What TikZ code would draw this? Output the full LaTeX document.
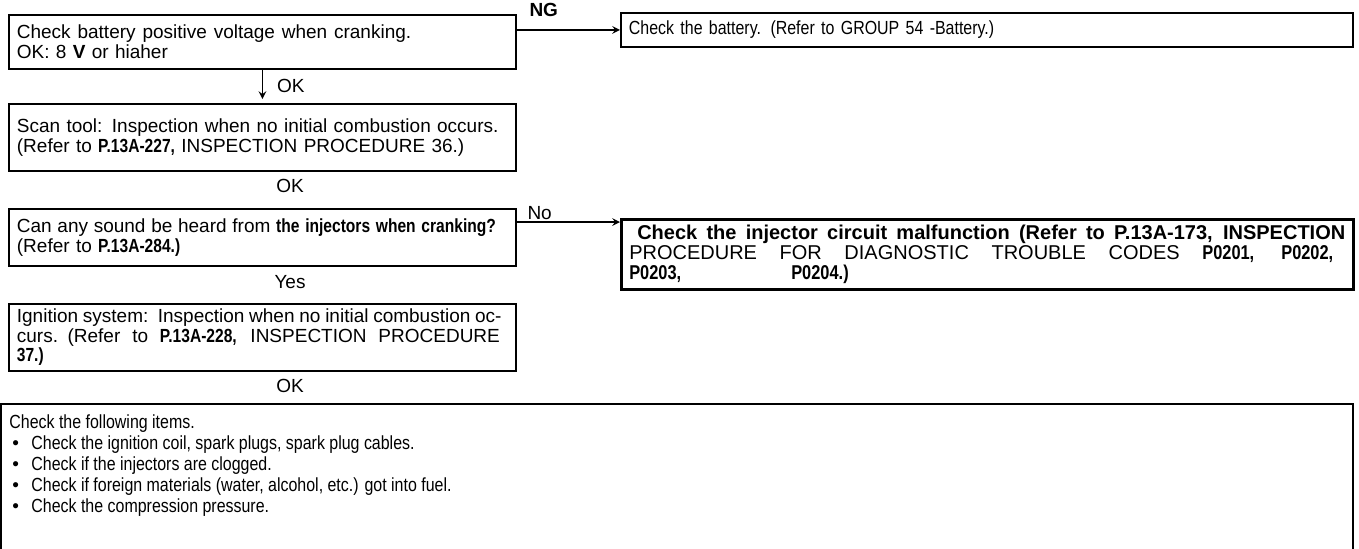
\documentclass[tikz,border=0pt]{standalone}
\usepackage{fontspec}
\setmainfont{Liberation Sans}
\newfontfamily\narrowfont[FakeStretch=0.82]{Liberation Sans}
\newfontfamily\itemfont[FakeStretch=0.84]{Liberation Sans}
\usetikzlibrary{positioning}

\newcommand\bnarrow[1]{{\narrowfont\bfseries #1}}
\newcommand\fullline[2]{{\spaceskip=.25em plus 1fil\makebox[#1][s]{#2}}}
\newcommand\itemdot{\makebox[11pt][l]{\hspace{1.5pt}{\normalfont\textbullet}}}

\begin{document}
\begin{tikzpicture}[x=0.5pt, y=-0.5pt,
    box/.style={draw, line width=0.9pt, anchor=north west, align=left,
      inner xsep=4pt, inner ysep=0pt, font=\fontsize{9.5}{9.8}\selectfont},
    arr/.style={-stealth, line width=0.7pt},
    lbl/.style={font=\fontsize{9.5}{10}\selectfont, inner sep=1pt}
  ]
  \useasboundingbox (0,0) rectangle (1359,548);

  % left column
  \node[box, text width=245.5pt, minimum height=27pt] (battchk) at (8,14)
    {{\spaceskip=0.36em Check battery positive voltage when cranking.}\\OK: 8 \textbf{V} or hiaher};
  \node[box, text width=245.5pt, minimum height=33.5pt] (scan) at (8,103)
    {Scan tool: Inspection when no initial combustion occurs.\\
     (Refer to \bnarrow{P.13A-227,} INSPECTION PROCEDURE 36.)};
  \node[box, text width=245.5pt, minimum height=28.5pt] (sound) at (8,208)
    {\fullline{245.5pt}{Can any sound be heard from \bnarrow{the injectors when cranking?}\hspace{6pt}}\\
     (Refer to \bnarrow{P.13A-284.)}};
  \node[box, text width=245.5pt, minimum height=33.5pt] (ignition) at (8,303)
    {\fullline{245.5pt}{Ignition system: Inspection when no initial combustion oc-\hspace{4pt}}\\
     \fullline{245.5pt}{curs. (Refer to \bnarrow{P.13A-228,} INSPECTION PROCEDURE\hspace{4pt}}\\
     \bnarrow{37.)}};

  % right column
  \node[box, text width=358pt, minimum height=17pt] (battery) at (620,12)
    {\itemfont Check the battery. (Refer to GROUP 54 -Battery.)};
  \node[box, line width=1.3pt, text width=358pt, minimum height=35pt,
    font=\fontsize{10}{9.8}\selectfont] (injector) at (620,218)
    {\fullline{358pt}{\hspace{4pt}\textbf{Check the injector circuit malfunction (Refer to P.13A-173, INSPECTION}}\\
     \fullline{358pt}{PROCEDURE FOR DIAGNOSTIC TROUBLE CODES \bnarrow{P0201, P0202,}\hspace{6pt}}\\
     \bnarrow{P0203,}\hspace{55pt}\bnarrow{P0204.)}};

  % bottom box, open at the lower edge
  \node[anchor=north west, inner xsep=4pt, inner ysep=5pt,
    font=\itemfont\fontsize{9.5}{10.6}\selectfont] (items) at (1,404)
    {\parbox[t][68pt][t]{667.5pt}{Check the following items.\\
      \itemdot Check the ignition coil, spark plugs, spark plug cables.\\
      \itemdot Check if the injectors are clogged.\\
      \itemdot Check if foreign materials (water, alcohol, etc.) got into fuel.\\
      \itemdot Check the compression pressure.}};
  \draw[line width=0.9pt] (items.south west) |- (items.north east) -- (items.south east);

  % connectors
  \draw[arr, shorten >=2pt] (battchk.south) -- (scan.north)
    node[lbl, midway, right, xshift=6pt] (okA) {OK};
  \draw[arr] (battchk.east |- battery.west) -- (battery.west)
    node[lbl, pos=0, above right, xshift=5pt, yshift=5.5pt] (ng) {\textbf{NG}};
  \coordinate (nostart) at ([yshift=-7pt]sound.north east);
  \draw[arr] (nostart) -- (nostart -| injector.west)
    node[lbl, pos=0, above right, xshift=4pt] (no) {No};

  \node[lbl] (okB) at (290,186) {OK};
  \node[lbl] (yes) at (290,282) {Yes};
  \node[lbl] (okC) at (290,386) {OK};
\end{tikzpicture}
\end{document}
